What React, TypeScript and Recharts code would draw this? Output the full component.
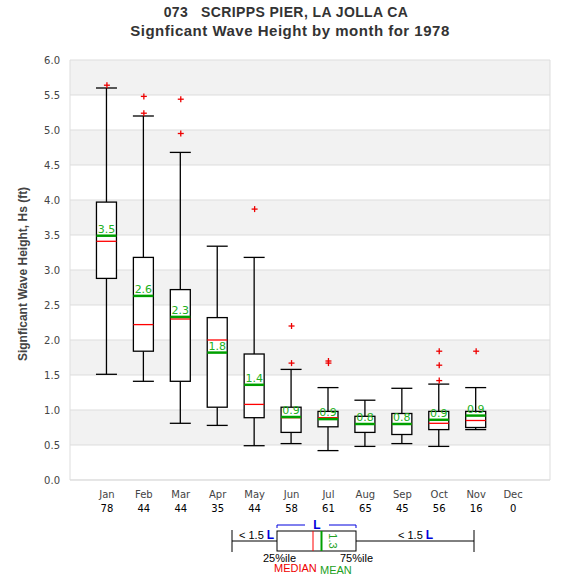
import { Bar, CartesianGrid, ComposedChart, ReferenceLine, Scatter, XAxis, YAxis } from "recharts";

// monthly significant wave height stats, Scripps Pier 1978
const months = ["Jan", "Feb", "Mar", "Apr", "May", "Jun", "Jul", "Aug", "Sep", "Oct", "Nov", "Dec"];
const counts = [78, 44, 44, 35, 44, 58, 61, 65, 45, 56, 16, 0];

const whiskerLow = [1.51, 1.41, 0.81, 0.78, 0.49, 0.52, 0.42, 0.48, 0.52, 0.48, 0.72];
const q1 = [2.88, 1.84, 1.41, 1.04, 0.89, 0.68, 0.76, 0.68, 0.65, 0.72, 0.75];
const medians = [3.41, 2.22, 2.3, 2.0, 1.08, 0.89, 0.89, 0.8, 0.8, 0.81, 0.85];
const means = [3.49, 2.63, 2.33, 1.82, 1.36, 0.9, 0.87, 0.8, 0.8, 0.86, 0.92];
const q3 = [3.97, 3.18, 2.72, 2.32, 1.8, 1.04, 0.98, 0.91, 0.95, 0.98, 0.98];
const whiskerHigh = [5.6, 5.2, 4.68, 3.34, 3.18, 1.58, 1.32, 1.14, 1.31, 1.37, 1.32];

const outlierMonth = [1, 2, 2, 3, 3, 5, 6, 6, 7, 7, 10, 10, 10, 11];
const outlierValue = [5.64, 5.48, 5.24, 5.44, 4.95, 3.87, 2.2, 1.67, 1.7, 1.67, 1.84, 1.64, 1.42, 1.84];

const yTicks = [0, 0.5, 1, 1.5, 2, 2.5, 3, 3.5, 4, 4.5, 5, 5.5, 6];
const xTicks = months.map((_, i) => i + 1);

const boxData = whiskerLow.map((lo, i) => ({
  x: i + 1,
  range: [lo, whiskerHigh[i]],
  q1: q1[i],
  median: medians[i],
  mean: means[i],
  q3: q3[i],
}));

const outlierData = outlierMonth.map((m, i) => ({ x: m, y: outlierValue[i] }));

const tickFont = "'DejaVu Sans', sans-serif";
const titleFont = "'Liberation Sans', Arial, sans-serif";

function BoxShape(props: any) {
  const { x, y, width, height, payload } = props;
  if (!payload || height == null) return null;
  const [lo, hi] = payload.range;
  const top = Math.min(y, y + height);
  const h = Math.abs(height);
  const k = h / (hi - lo);
  const py = (v: number) => top + (hi - v) * k;
  const cx = x + width / 2;
  const yq3 = py(payload.q3);
  const yq1 = py(payload.q1);
  const ymed = py(payload.median);
  const ymean = py(payload.mean);
  return (
    <g>
      <line x1={cx} x2={cx} y1={top} y2={yq3} stroke="#000" strokeWidth={1.3} />
      <line x1={cx} x2={cx} y1={yq1} y2={top + h} stroke="#000" strokeWidth={1.3} />
      <line x1={x - 0.5} x2={x + width + 0.5} y1={top} y2={top} stroke="#000" strokeWidth={1.3} />
      <line x1={x - 0.5} x2={x + width + 0.5} y1={top + h} y2={top + h} stroke="#000" strokeWidth={1.3} />
      <rect x={x} y={yq3} width={width} height={yq1 - yq3} fill="#ffffff" stroke="#000" strokeWidth={1.3} />
      <line x1={x} x2={x + width} y1={ymed} y2={ymed} stroke="#ff0000" strokeWidth={1.3} />
      <line x1={x} x2={x + width} y1={ymean} y2={ymean} stroke="#00a000" strokeWidth={2.5} />
      <text x={cx} y={ymean - 3} textAnchor="middle" fontSize={11} fontFamily={tickFont} fill="#22b022">
        {payload.mean.toFixed(1)}
      </text>
    </g>
  );
}

function PlusShape(props: any) {
  const { cx, cy } = props;
  return (
    <g>
      <line x1={cx - 3} x2={cx + 3} y1={cy} y2={cy} stroke="#ee0000" strokeWidth={1.3} />
      <line x1={cx} x2={cx} y1={cy - 3} y2={cy + 3} stroke="#ee0000" strokeWidth={1.3} />
    </g>
  );
}

function MonthTick(props: any) {
  const { x, y, payload } = props;
  const i = payload.value - 1;
  return (
    <g>
      <text x={x} y={y + 10} textAnchor="middle" fontSize={10} fontFamily={tickFont} fill="#444">
        {months[i]}
      </text>
      <text x={x} y={y + 24} textAnchor="middle" fontSize={10} fontFamily={tickFont} fill="#000">
        {counts[i]}
      </text>
    </g>
  );
}

function Overlay() {
  return (
    <svg width={575} height={580} style={{ position: "absolute", left: 0, top: 0, pointerEvents: "none" }}>
      <text x={286} y={17} textAnchor="middle" fontSize={14} letterSpacing={0.4} fontWeight="bold" fontFamily={titleFont} fill="#333" style={{ whiteSpace: "pre" }}>
        {"073   SCRIPPS PIER, LA JOLLA CA"}
      </text>
      <text x={290} y={35.5} textAnchor="middle" fontSize={15} letterSpacing={0.5} fontWeight="bold" fontFamily={titleFont} fill="#333">
        Signficant Wave Height by month for 1978
      </text>
      <text
        x={27}
        y={274}
        transform="rotate(-90 27 274)"
        textAnchor="middle"
        fontSize={12}
        fontWeight="bold"
        fontFamily={titleFont}
        fill="#444"
      >
        Signficant Wave Height, Hs (ft)
      </text>

      {/* box legend */}
      <g fontFamily={titleFont} fontSize={11}>
        <line x1={232} x2={474} y1={541} y2={541} stroke="#000" strokeWidth={1} />
        <line x1={232} x2={232} y1={530} y2={552} stroke="#000" strokeWidth={1} />
        <line x1={474} x2={474} y1={530} y2={552} stroke="#000" strokeWidth={1} />
        <rect x={277} y={531} width={79} height={20} fill="#fff" stroke="#000" strokeWidth={1} />
        <line x1={313} x2={313} y1={531} y2={551} stroke="#ff0000" strokeWidth={1} />
        <line x1={321.5} x2={321.5} y1={531} y2={551} stroke="#00a000" strokeWidth={2} />
        <text x={328} y={541} transform="rotate(90 328 541)" textAnchor="middle" dy={-1} fill="#22a022">
          1.3
        </text>
        <polyline points="277,528 277,525 305,525" fill="none" stroke="#0000dd" strokeWidth={1} />
        <polyline points="329,525 356,525 356,528" fill="none" stroke="#0000dd" strokeWidth={1} />
        <text x={317} y={529} textAnchor="middle" fontWeight="bold" fontSize={12} fill="#0000dd">
          L
        </text>
        <text x={239} y={539} fill="#000" style={{ whiteSpace: "pre" }}>
          {"< 1.5 "}
          <tspan fontWeight="bold" fill="#0000dd" fontSize={12}>L</tspan>
        </text>
        <text x={398} y={539} fill="#000" style={{ whiteSpace: "pre" }}>
          {"< 1.5 "}
          <tspan fontWeight="bold" fill="#0000dd" fontSize={12}>L</tspan>
        </text>
        <text x={263} y={562} fill="#000">25%ile</text>
        <text x={340} y={562} fill="#000">75%ile</text>
        <text x={274} y={572} fill="#ee0000">MEDIAN</text>
        <text x={320} y={574} fill="#22a022">MEAN</text>
      </g>
    </svg>
  );
}

export default function App() {
  return (
    <div style={{ position: "relative", width: 575, height: 580, background: "#fff" }}>
      <style>{"body{margin:0}"}</style>
      <ComposedChart width={575} height={580} data={boxData} margin={{ top: 60, right: 25, left: 30, bottom: 60 }}>
        <CartesianGrid vertical={false} stroke="#dddddd" horizontalFill={["#f2f2f2", "#ffffff"]} />
        <XAxis
          dataKey="x"
          type="number"
          domain={[0, 13]}
          ticks={xTicks}
          height={40}
          tickLine={false}
          axisLine={{ stroke: "#dddddd" }}
          tick={<MonthTick />}
          interval={0}
        />
        <YAxis
          type="number"
          domain={[0, 6]}
          ticks={yTicks}
          width={40}
          tickLine={false}
          axisLine={{ stroke: "#dddddd" }}
          tickMargin={4}
          tickFormatter={(v) => Number(v).toFixed(1)}
          tick={{ fontSize: 10, fontFamily: tickFont, fill: "#444" }}
        />
        <ReferenceLine x={13} stroke="#dddddd" />
        <Bar dataKey="range" barSize={20} shape={<BoxShape />} isAnimationActive={false} />
        <Scatter data={outlierData} dataKey="y" shape={<PlusShape />} isAnimationActive={false} />
      </ComposedChart>
      <Overlay />
    </div>
  );
}
